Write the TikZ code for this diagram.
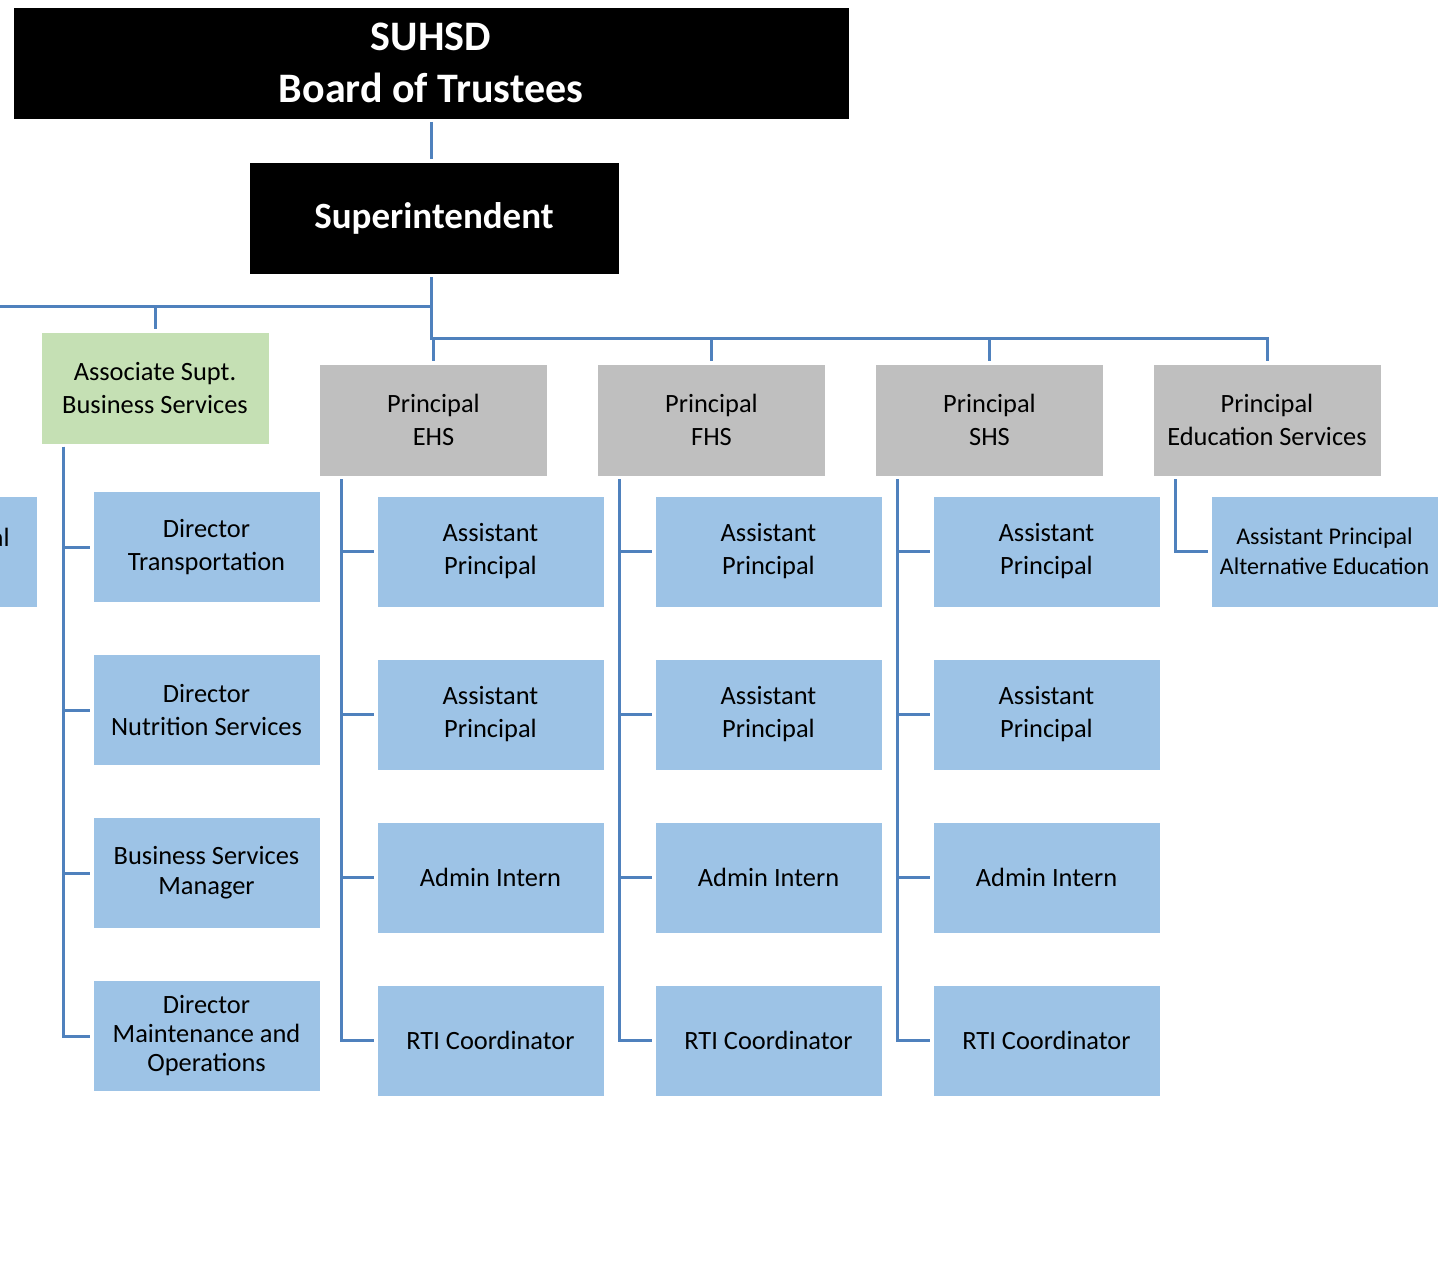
\documentclass[tikz,border=0pt]{standalone}
\usepackage{fontspec}
\setmainfont{Carlito}
\definecolor{linkblue}{HTML}{4F81BD}
\definecolor{staffblue}{HTML}{9DC3E6}
\definecolor{headgray}{HTML}{BFBFBF}
\definecolor{assocgreen}{HTML}{C5E0B4}
\tikzset{
  box/.style={minimum width=113.5pt,minimum height=55.5pt,inner sep=2pt,outer sep=1.5pt,
    align=center,draw=white,line width=0.4pt,font=\fontsize{13.2}{16.5}\selectfont},
  staff/.style={box,fill=staffblue},
  head/.style={box,fill=headgray,minimum width=114pt,minimum height=56pt},
  assoc/.style={box,fill=assocgreen,minimum width=114pt,minimum height=56pt},
  top/.style={box,fill=black,text=white,minimum height=56pt},
  link/.style={draw=linkblue,line width=1.5pt}
}
\begin{document}
\begin{tikzpicture}[x=0.5pt,y=-0.5pt]
\useasboundingbox (0,0) rectangle (1449,1261);
% board and superintendent
\node[top,minimum width=418pt,font=\fontsize{21}{26}\selectfont\bfseries] (board) at (431,63) {SUHSD\\Board of Trustees};
\node[top,minimum width=185pt,font=\fontsize{18.5}{22}\selectfont\bfseries] (sup) at (434,218.5) {Superintendent};
\draw[link] (board.south) -- (board.south |- sup.north);
\coordinate (hub) at (431,307);
\coordinate (rail) at (431,339);
\coordinate (offl) at (-10,307);
\draw[link] (hub) -- (offl);
% business services
\node[assoc] (asb) at (155,388) {Associate Supt.\\Business Services};
\draw[link] (asb.north |- hub) -- (asb.north);
\node[staff] (asb1) at (206.5,547) {Director\\Transportation};
\node[staff] (asb2) at (206.5,710) {Director\\Nutrition Services};
\node[staff,font=\fontsize{13.2}{15}\selectfont] (asb3) at (206.5,873) {Business Services\\Manager};
\node[staff,font=\fontsize{13.2}{14.5}\selectfont] (asb4) at (206.5,1036) {Director\\Maintenance and\\Operations};
\foreach \r in {1,...,4}
  \draw[link] ([xshift=12.5pt]asb.south west) |- (asb\r.west);
% box cut off at the left edge
\node[staff] (alt) at (-76.5,551.5) {};
\node[anchor=base east,inner sep=0pt,font=\fontsize{13.2}{16.5}\selectfont] (alttxt) at (10,546) {al};
% schools
\foreach \n/\lbl/\cx in {ehs/EHS/433.5,fhs/FHS/711.5,shs/SHS/989.5}{
  \node[head] (\n) at (\cx,420) {Principal\\\lbl};
  \draw[link] (\n.north |- rail) -- (\n.north);
  \foreach \t [count=\r] in {{Assistant\\Principal},{Assistant\\Principal},{Admin Intern},{RTI Coordinator}}{
    \node[staff] (\n\r) at ({\cx+57},{388.5+163*\r}) {\t};
    \draw[link] ([xshift=12.5pt]\n.south west) |- (\n\r.west);
  }
}
% education services
\node[head] (eds) at (1267,420) {Principal\\Education Services};
\node[staff,font=\fontsize{12}{15}\selectfont] (eds1) at (1324.5,551.5) {Assistant Principal\\Alternative Education};
\draw[link] ([xshift=12.5pt]eds.south west) |- (eds1.west);
\draw[link] (board.south |- sup.south) -- (rail) -| (eds.north);
\end{tikzpicture}
\end{document}
